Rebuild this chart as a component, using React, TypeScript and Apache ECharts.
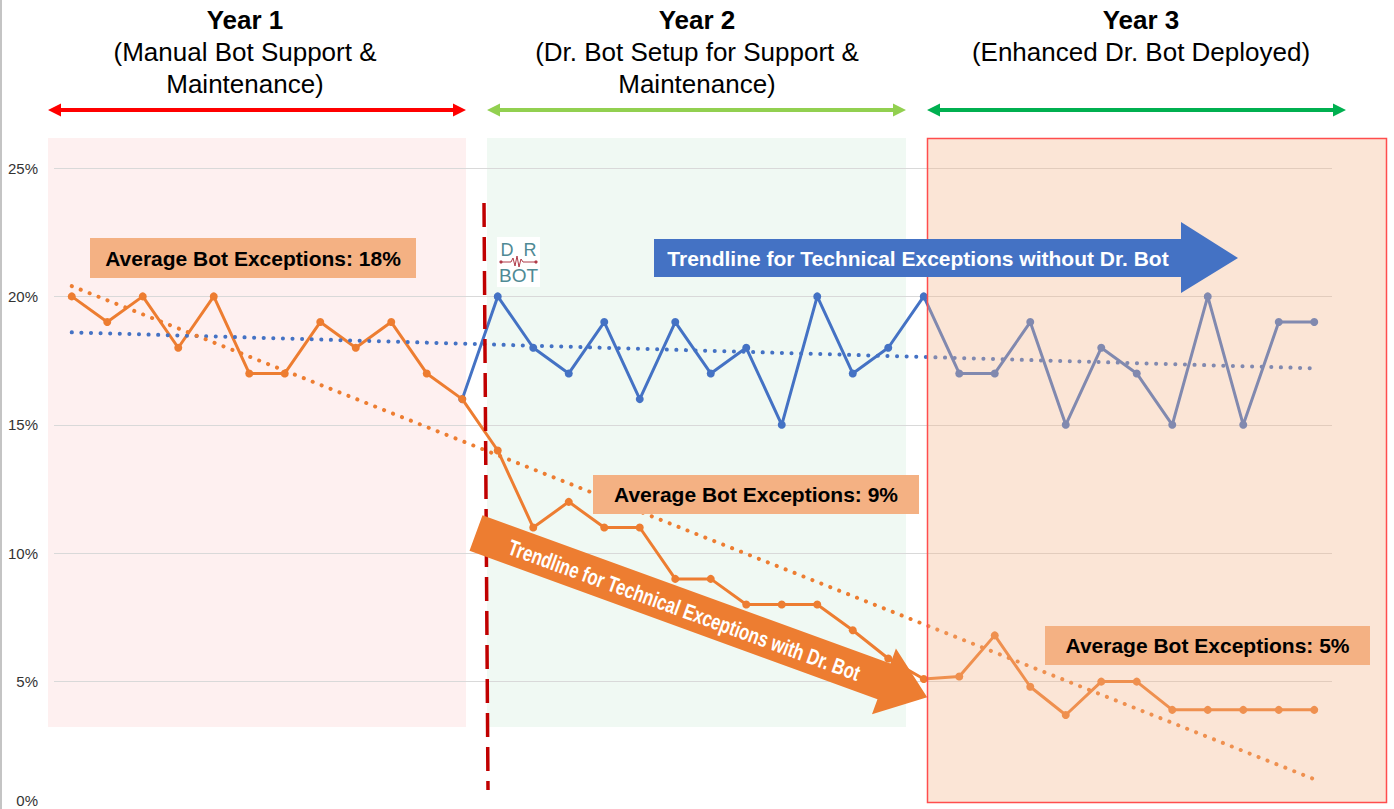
import React, { useEffect, useRef } from "react";
import * as echarts from "echarts";

const months = ["1","2","3","4","5","6","7","8","9","10","11","12","13","14","15","16","17","18","19","20","21","22","23","24","25","26","27","28","29","30","31","32","33","34","35","36"];

// Technical exceptions (%) with Dr. Bot (orange)
const withDrBot = [20,19,20,18,20,17,17,19,18,19,17,16,14,11,12,11,11,9,9,8,8,8,7,5.9,5.1,5.2,6.8,4.8,3.7,5,5,3.9,3.9,3.9,3.9,3.9];
// Technical exceptions (%) without Dr. Bot (blue)
const withoutDrBot = [null,null,null,null,null,null,null,null,null,null,null,16,20,18,17,19,16,19,17,18,15,20,17,18,20,17,17,19,15,18,17,15,20,15,19,19];
// trendline end values (first month, last month)
const trendWithout = [18.6, 17.2];
const trendWith = [20.4, 1.2];

const yearTitles = ["Year 1", "Year 2", "Year 3"];
const yearSub1 = ["(Manual Bot Support &", "(Dr. Bot Setup for Support &", "(Enhanced Dr. Bot Deployed)"];
const yearSub2 = ["Maintenance)", "Maintenance)", ""];
const averages = ["Average Bot Exceptions: 18%", "Average Bot Exceptions: 9%", "Average Bot Exceptions: 5%"];

const FONT = "'Liberation Sans', Arial, Helvetica, sans-serif";

function twoPoint(vals: number[]) {
  return months.map((_, i) => (i === 0 ? vals[0] : i === months.length - 1 ? vals[1] : null));
}

function dblArrow(x1: number, x2: number, y: number, color: string) {
  const hl = 13, hh = 6.5, t = 2;
  return {
    type: "polygon",
    z: 10,
    shape: {
      points: [
        [x1, y], [x1 + hl, y - hh], [x1 + hl, y - t], [x2 - hl, y - t], [x2 - hl, y - hh],
        [x2, y], [x2 - hl, y + hh], [x2 - hl, y + t], [x1 + hl, y + t], [x1 + hl, y + hh],
      ],
    },
    style: { fill: color },
  };
}

function avgBox(x: number, y: number, w: number, h: number, text: string) {
  return {
    type: "group",
    z: 80,
    children: [
      { type: "rect", z: 80, shape: { x, y, width: w, height: h }, style: { fill: "#f4b183" } },
      {
        type: "text", z: 81, x: x + w / 2, y: y + h / 2,
        style: { text, fill: "#000", font: `bold 21px ${FONT}`, textAlign: "center", textVerticalAlign: "middle", align: "center", verticalAlign: "middle" },
      },
    ],
  };
}

function headerText(cx: number, i: number) {
  const base = { textAlign: "center", textVerticalAlign: "middle", align: "center", verticalAlign: "middle", fill: "#000" };
  return [
    { type: "text", z: 10, x: cx, y: 20, style: { ...base, text: yearTitles[i], font: `bold 26px ${FONT}` } },
    { type: "text", z: 10, x: cx, y: 52, style: { ...base, text: yearSub1[i], font: `26px ${FONT}` } },
    { type: "text", z: 10, x: cx, y: 84, style: { ...base, text: yearSub2[i], font: `26px ${FONT}` } },
  ];
}

export default function App() {
  const ref = useRef<HTMLDivElement>(null);
  useEffect(() => {
    if (!ref.current) return;
    const chart = echarts.init(ref.current, undefined, { renderer: "svg" });
    const rot = (-20 * Math.PI) / 180;
    const option: any = {
      animation: false,
      backgroundColor: "#ffffff",
      grid: { left: 54, right: 62, top: 168, bottom: -1, containLabel: false, outerBoundsMode: "none" },
      xAxis: {
        type: "category",
        data: months,
        boundaryGap: true,
        axisLine: { show: false },
        axisTick: { show: false },
        axisLabel: { show: false },
        splitLine: { show: false },
      },
      yAxis: {
        type: "value",
        min: 0,
        max: 25,
        interval: 5,
        axisLine: { show: false },
        axisTick: { show: false },
        axisLabel: {
          formatter: (v: number) => (v === 0 ? "{z|0%}" : `${v}%`),
          fontSize: 15,
          color: "#333",
          margin: 16,
          fontFamily: FONT,
          rich: { z: { fontSize: 15, color: "#333", fontFamily: FONT, padding: [0, 0, 20, 0] } },
        },
        splitLine: { lineStyle: { color: "#d9d9d9", width: 1 } },
      },
      series: [
        {
          name: "Without Dr. Bot",
          type: "line",
          data: withoutDrBot,
          z: 2,
          symbol: "circle",
          symbolSize: 8,
          lineStyle: { color: "#4472c4", width: 3 },
          itemStyle: { color: "#4472c4" },
        },
        {
          name: "With Dr. Bot",
          type: "line",
          data: withDrBot,
          z: 3,
          symbol: "circle",
          symbolSize: 8,
          lineStyle: { color: "#ed7d31", width: 3 },
          itemStyle: { color: "#ed7d31" },
        },
        {
          name: "Trend without",
          type: "line",
          data: twoPoint(trendWithout),
          connectNulls: true,
          showSymbol: false,
          symbol: "none",
          z: 4,
          lineStyle: { color: "#4472c4", width: 4, type: [0.1, 9.5], cap: "round" },
        },
        {
          name: "Trend with",
          type: "line",
          data: twoPoint(trendWith),
          connectNulls: true,
          showSymbol: false,
          symbol: "none",
          z: 4,
          lineStyle: { color: "#ed7d31", width: 4, type: [0.1, 9.5], cap: "round" },
        },
      ],
      graphic: {
        elements: [
          // left border
          { type: "line", z: 10, shape: { x1: 1, y1: 0, x2: 1, y2: 809 }, style: { stroke: "#c4c4c4", lineWidth: 2 } },
          // background bands
          { type: "rect", z: -1, shape: { x: 48, y: 138, width: 418, height: 589 }, style: { fill: "#fef0f0" } },
          { type: "rect", z: -1, shape: { x: 487, y: 138, width: 419, height: 589 }, style: { fill: "#f0f9f3" } },
          // year 3 overlay
          { type: "rect", z: 50, shape: { x: 927.5, y: 138.5, width: 459, height: 664 }, style: { fill: "rgba(243,181,138,0.35)", stroke: "#ff4d4d", lineWidth: 1.5 } },
          // headers
          ...headerText(245, 0),
          ...headerText(697, 1),
          ...headerText(1141, 2),
          dblArrow(48, 466, 110, "#ff0000"),
          dblArrow(487, 906, 110, "#92d050"),
          dblArrow(927, 1346, 110, "#00b050"),
          // red dashed divider
          { type: "line", z: 60, shape: { x1: 484, y1: 203, x2: 488, y2: 790 }, style: { stroke: "#c00000", lineWidth: 3.5, lineDash: [24, 10] } },
          // average boxes
          avgBox(90, 238, 326, 40, averages[0]),
          avgBox(593, 475, 326, 39, averages[1]),
          avgBox(1045, 626, 325, 39, averages[2]),
          // blue block arrow
          {
            type: "polygon",
            z: 80,
            shape: { points: [[654, 239], [1181, 239], [1181, 222], [1238, 258], [1181, 293], [1181, 277], [654, 277]] },
            style: { fill: "#4472c4" },
          },
          {
            type: "text", z: 81, x: 918, y: 258,
            style: { text: "Trendline for Technical Exceptions without Dr. Bot", fill: "#fff", font: `bold 21px ${FONT}`, textAlign: "center", textVerticalAlign: "middle", align: "center", verticalAlign: "middle" },
          },
          // orange diagonal block arrow
          {
            type: "group",
            z: 80,
            x: 476,
            y: 533,
            rotation: rot,
            children: [
              {
                type: "polygon",
                z: 80,
                shape: { points: [[0, -19], [434, -19], [434, -35], [480, 0], [434, 35], [434, 19], [0, 19]] },
                style: { fill: "#ed7d31" },
              },
              {
                type: "text",
                z: 81,
                x: 222,
                y: 1,
                scaleX: 0.76,
                style: { text: "Trendline for Technical Exceptions with Dr. Bot", fill: "#fff", font: `bold 22px ${FONT}`, textAlign: "center", textVerticalAlign: "middle", align: "center", verticalAlign: "middle" },
              },
            ],
          },
          // Dr. Bot logo
          { type: "rect", z: 70, shape: { x: 497, y: 237, width: 43, height: 50 }, style: { fill: "#ffffff" } },
          { type: "text", z: 71, x: 518.5, y: 250, style: { text: "D  R", fill: "#4f8a95", font: `18px ${FONT}`, textAlign: "center", textVerticalAlign: "middle", align: "center", verticalAlign: "middle" } },
          { type: "text", z: 71, x: 518.5, y: 275, style: { text: "BOT", fill: "#4f8a95", font: `19px ${FONT}`, textAlign: "center", textVerticalAlign: "middle", align: "center", verticalAlign: "middle" } },
          {
            type: "polyline", z: 71,
            shape: { points: [[501, 262], [511, 262], [513, 258], [515, 266], [517, 256], [519, 267], [521, 259], [523, 262], [536, 262]] },
            style: { stroke: "#b03a48", lineWidth: 1, fill: null },
          },
          { type: "circle", z: 72, shape: { cx: 501, cy: 262, r: 1.6 }, style: { fill: "#b03a48" } },
          { type: "circle", z: 72, shape: { cx: 536, cy: 262, r: 1.6 }, style: { fill: "#b03a48" } },
        ],
      },
    };
    chart.setOption(option);
    return () => chart.dispose();
  }, []);
  return <div ref={ref} style={{ position: "fixed", left: 0, top: 0, width: 1394, height: 809 }} />;
}
